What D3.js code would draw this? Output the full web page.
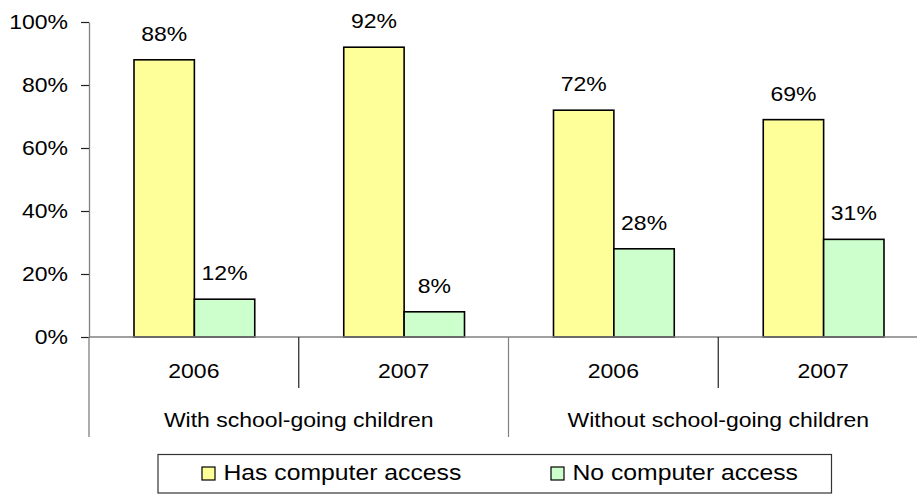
<!DOCTYPE html>
<html>
<head>
<meta charset="utf-8">
<script src="https://cdn.jsdelivr.net/npm/d3@7"></script>
<style>
  html, body { margin: 0; padding: 0; background: #fff; }
  svg { display: block; }
  text { font-family: "Liberation Sans", Arial, sans-serif; fill: #000; }
</style>
</head>
<body>
<svg id="chart" width="917" height="494"></svg>
<script>
// Households with / without school-going children, share with computer access
const groups = ["With school-going children", "Without school-going children"];
const years = ["2006", "2007", "2006", "2007"];
const seriesNames = ["Has computer access", "No computer access"];
const hasAccess = [0.88, 0.92, 0.72, 0.69];
const noAccess = [0.12, 0.08, 0.28, 0.31];
const yTicks = [0, 0.2, 0.4, 0.6, 0.8, 1.0];
const colors = ["#FFFF99", "#CCFFCC"];

const svg = d3.select("#chart");
const SX = 1.15;           // horizontal stretch of the lettering
const FS = 20;

const left = 89, right = 928, y0 = 337, yTop = 22;
const y = d3.scaleLinear().domain([0, 1]).range([y0, yTop]);
const xCat = d3.scaleBand().domain(d3.range(years.length)).range([left, right]).padding(0);
const xGroup = d3.scaleBand().domain(d3.range(groups.length)).range([left, right]).padding(0);
const xSeries = d3.scaleBand().domain([0, 1]).range([45, xCat.bandwidth() - 44]).padding(0);

function label(x, yy, str, anchor, size, sx) {
  svg.append("g")
    .attr("transform", `translate(${x},${yy}) scale(${sx || SX},1)`)
    .append("text")
    .attr("text-anchor", anchor || "middle")
    .style("font-size", (size || FS) + "px")
    .text(str);
}

const axisColor = "#808080";

// y axis: gray spine, dark tick marks
const yAxis = d3.axisLeft(y).tickValues(yTicks).tickSize(8).tickSizeOuter(0).tickFormat("");
const ya = svg.append("g").attr("transform", `translate(${left},0)`).call(yAxis);
ya.select("path.domain").attr("stroke", axisColor).attr("stroke-width", 1.3);
ya.selectAll(".tick line").attr("stroke", "#222").attr("stroke-width", 1.2);
svg.append("line").attr("x1", left).attr("x2", left).attr("y1", y0).attr("y2", 437)
  .attr("stroke", axisColor).attr("stroke-width", 1.3);
yTicks.forEach(t => label(68, y(t) + 6.5, d3.format(".0%")(t), "end"));

// bars
const data = years.map((yr, i) => ({ i, values: [hasAccess[i], noAccess[i]] }));
const cat = svg.selectAll("g.cat").data(data).enter().append("g")
  .attr("class", "cat")
  .attr("transform", d => `translate(${xCat(d.i)},0)`);
cat.selectAll("rect").data(d => d.values.map((v, s) => ({ v, s }))).enter().append("rect")
  .attr("x", d => xSeries(d.s))
  .attr("width", xSeries.bandwidth())
  .attr("y", d => y(d.v))
  .attr("height", d => y0 - y(d.v))
  .attr("fill", d => colors[d.s])
  .attr("stroke", "#000")
  .attr("stroke-width", 1.6);

// value labels
data.forEach(d => d.values.forEach((v, s) => {
  label(xCat(d.i) + xSeries(s) + xSeries.bandwidth() / 2, y(v) - 19, d3.format(".0%")(v));
}));

// x axis line and category separators
svg.append("line").attr("x1", left).attr("x2", 917).attr("y1", y0).attr("y2", y0)
  .attr("stroke", axisColor).attr("stroke-width", 1.3);
years.forEach((yr, i) => {
  if (i > 0) {
    const bx = xCat(i);
    const isGroupEdge = i % 2 === 0;
    svg.append("line").attr("x1", bx).attr("x2", bx).attr("y1", y0)
      .attr("y2", isGroupEdge ? 437 : 388)
      .attr("stroke", isGroupEdge ? axisColor : "#222").attr("stroke-width", 1.2);
  }
  label(xCat(i) + xCat.bandwidth() / 2, 378, yr);
});
groups.forEach((g, i) => label(xGroup(i) + xGroup.bandwidth() / 2, 427, g));

// legend
const lg = svg.append("g");
lg.append("rect").attr("x", 158).attr("y", 454.5).attr("width", 673.5).attr("height", 38.5)
  .attr("fill", "#fff").attr("stroke", "#333").attr("stroke-width", 1.2);
const legendX = [202, 551];
seriesNames.forEach((name, s) => {
  lg.append("rect").attr("x", legendX[s]).attr("y", 467).attr("width", 13).attr("height", 13)
    .attr("fill", colors[s]).attr("stroke", "#000").attr("stroke-width", 1.2);
  label(legendX[s] + 21.5, 479.5, name, "start", 22.5, 1.1);
});
</script>
</body>
</html>
